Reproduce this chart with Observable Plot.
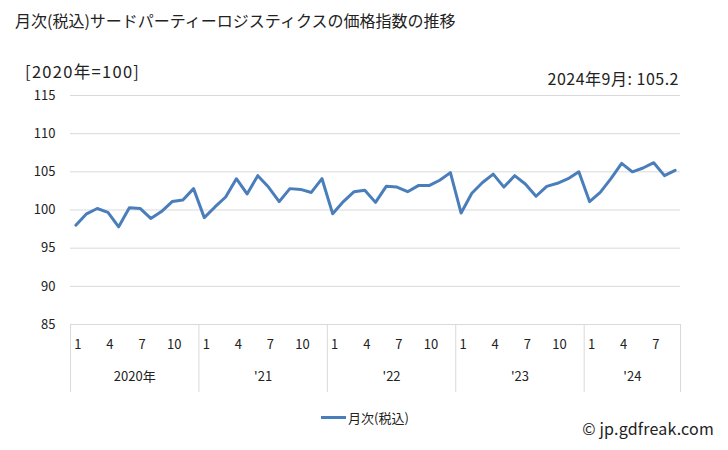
<!DOCTYPE html>
<html><head><meta charset="utf-8">
<script src="https://cdn.jsdelivr.net/npm/d3@7"></script>
<script src="https://cdn.jsdelivr.net/npm/@observablehq/plot@0.6"></script>
<style>
html,body{margin:0;padding:0;background:#fff;}
#wrap{position:relative;width:728px;height:450px;font-family:"Noto Sans CJK JP","Noto Sans",sans-serif;color:#222;}
#wrap svg{position:absolute;left:0;top:0;}
.ov{position:absolute;white-space:nowrap;line-height:1;}
</style></head>
<body>
<div id="wrap">
  <div class="ov" id="title" style="left:15px;top:12px;font-size:16px;">月次(税込)サードパーティーロジスティクスの価格指数の推移</div>
  <div class="ov" id="unit" style="left:25px;top:63px;font-size:16.5px;letter-spacing:1.3px;">[2020年=100]</div>
  <div class="ov" id="latest" style="right:49px;top:70px;font-size:16px;letter-spacing:0.5px;"></div>
  <div class="ov" id="legend" style="left:321px;top:411px;font-size:13px;display:flex;align-items:center;"><span style="display:inline-block;width:25px;height:3px;background:#4a7ebb;margin-right:2px;"></span><span id="legtext"></span></div>
  <div class="ov" id="copy" style="right:14px;top:420px;font-size:16px;letter-spacing:0.2px;">© jp.gdfreak.com</div>
</div>
<script>
const seriesName = "月次(税込)";
const years = [2020, 2021, 2022, 2023, 2024];
const yearLabels = ["2020年", "'21", "'22", "'23", "'24"];
const monthTickLabels = [1, 4, 7, 10];
const values2020 = [98.0, 99.5, 100.2, 99.7, 97.8, 100.3, 100.2, 98.9, 99.8, 101.1, 101.3, 102.8];
const values2021 = [99.0, 100.4, 101.7, 104.1, 102.1, 104.5, 103.0, 101.1, 102.8, 102.7, 102.3, 104.1];
const values2022 = [99.5, 101.1, 102.4, 102.6, 101.0, 103.1, 103.0, 102.4, 103.2, 103.2, 103.9, 104.9];
const values2023 = [99.6, 102.2, 103.6, 104.7, 103.0, 104.5, 103.4, 101.8, 103.1, 103.5, 104.1, 105.0];
const values2024 = [101.1, 102.3, 104.1, 106.1, 105.0, 105.5, 106.2, 104.5, 105.2];
const yTicks = [85, 90, 95, 100, 105, 110, 115];

const allYears = [values2020, values2021, values2022, values2023, values2024];
const data = [];
allYears.forEach((arr, yi) => arr.forEach((v, mi) => data.push({i: data.length, year: years[yi], month: mi + 1, value: v})));
const n = data.length;
const last = data[n - 1];

document.getElementById("latest").textContent = `${last.year}年${last.month}月: ${last.value.toFixed(1)}`;
document.getElementById("legtext").textContent = seriesName;

const monthTicks = data.filter(d => monthTickLabels.includes(d.month)).map(d => d.i);
const yearStarts = years.map(y => data.find(d => d.year === y).i);
const separators = yearStarts.map(s => s - 0.5).concat([n - 0.5]);
const yearCenters = years.map((y, k) => (separators[k] + separators[k + 1]) / 2);
const monthOf = i => data[i].month;

const font = '"Noto Sans CJK JP","Noto Sans",sans-serif';
const chart = Plot.plot({
  width: 728,
  height: 450,
  marginTop: 95,
  marginBottom: 126,
  marginLeft: 70,
  marginRight: 48,
  style: {fontFamily: font, fontSize: "13px", color: "#222", background: "transparent", overflow: "visible"},
  x: {type: "linear", domain: [-0.5, n - 0.5]},
  y: {domain: [85, 115]},
  marks: [
    Plot.gridY(yTicks, {stroke: "#d9d9d9", strokeOpacity: 1, strokeWidth: 1}),
    Plot.axisY(yTicks, {tickSize: 0, tickPadding: 15, label: null, fontSize: 13}),
    Plot.axisX(separators, {tickSize: 68, tickFormat: () => "", stroke: "#d9d9d9", strokeOpacity: 1, label: null}),
    Plot.axisX(monthTicks, {tickSize: 0, tickPadding: 15, tickFormat: monthOf, label: null, dx: 2, fontSize: 13}),
    Plot.axisX(yearCenters, {tickSize: 0, tickPadding: 47, tickFormat: (d, k) => yearLabels[k], label: null, fontSize: 13}),
    Plot.line(data, {x: "i", y: "value", stroke: "#4a7ebb", strokeWidth: 3, strokeLinejoin: "round", strokeLinecap: "round"})
  ]
});
document.getElementById("wrap").prepend(chart);
</script>
</body></html>
